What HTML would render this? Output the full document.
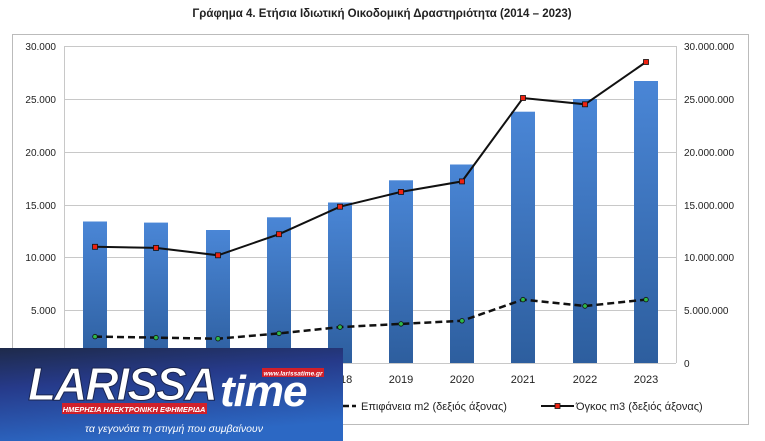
<!DOCTYPE html><html><head><style>body{margin:0;background:#fff;width:765px;height:441px;overflow:hidden;position:relative;font-family:"Liberation Sans",sans-serif}</style></head><body>
<svg width="765" height="441" style="position:absolute;left:0;top:0" font-family="Liberation Sans, sans-serif">
<defs><linearGradient id="b" x1="0" y1="0" x2="0" y2="1"><stop offset="0" stop-color="#4a86d6"/><stop offset="1" stop-color="#2d5e9e"/></linearGradient>
<linearGradient id="lg" x1="0" y1="0" x2="0.3" y2="1"><stop offset="0" stop-color="#1e2a4a"/><stop offset="0.4" stop-color="#263a8a"/><stop offset="1" stop-color="#2c68c4"/></linearGradient></defs>
<text x="382" y="17" text-anchor="middle" font-size="11.5" font-weight="bold" fill="#222">Γράφημα 4. Ετήσια Ιδιωτική Οικοδομική Δραστηριότητα (2014 – 2023)</text>
<rect x="12.5" y="34.5" width="736" height="390" fill="none" stroke="#bbb"/>
<g stroke="#c8c8c8" stroke-width="1">
<line x1="64" x2="676" y1="46.5" y2="46.5"/><line x1="64" x2="676" y1="99.5" y2="99.5"/><line x1="64" x2="676" y1="152.5" y2="152.5"/><line x1="64" x2="676" y1="205.5" y2="205.5"/><line x1="64" x2="676" y1="257.5" y2="257.5"/><line x1="64" x2="676" y1="310.5" y2="310.5"/>
<line x1="64.5" x2="64.5" y1="46" y2="363"/><line x1="676.5" x2="676.5" y1="46" y2="363"/><line x1="64" x2="676" y1="363.5" y2="363.5"/></g>
<g font-size="10" fill="#222" text-anchor="end">
<text x="56" y="50">30.000</text><text x="56" y="103">25.000</text><text x="56" y="156">20.000</text><text x="56" y="209">15.000</text><text x="56" y="261">10.000</text><text x="56" y="314">5.000</text></g>
<g font-size="10" fill="#222">
<text x="684" y="50">30.000.000</text><text x="684" y="103">25.000.000</text><text x="684" y="156">20.000.000</text><text x="684" y="209">15.000.000</text><text x="684" y="261">10.000.000</text><text x="684" y="314">5.000.000</text><text x="684" y="367">0</text></g>
<g fill="url(#b)">
<rect x="83" y="221.5" width="24" height="141.5"/><rect x="144" y="222.6" width="24" height="140.4"/><rect x="206" y="230" width="24" height="133"/><rect x="267" y="217.3" width="24" height="145.7"/><rect x="328" y="202.5" width="24" height="160.5"/><rect x="389" y="180.3" width="24" height="182.7"/><rect x="450" y="164.5" width="24" height="198.5"/><rect x="511" y="111.7" width="24" height="251.3"/><rect x="573" y="99" width="24" height="264"/><rect x="634" y="81" width="24" height="282"/></g>
<g font-size="11" fill="#222" text-anchor="middle">
<text x="340" y="383">2018</text><text x="401" y="383">2019</text><text x="462" y="383">2020</text><text x="523" y="383">2021</text><text x="585" y="383">2022</text><text x="646" y="383">2023</text></g>
<polyline fill="none" stroke="#111" stroke-width="2.5" stroke-dasharray="7,4" points="95,336.6 156,337.6 218,338.7 279,333.4 340,327.1 401,323.9 462,320.8 523,299.6 585,306 646,299.6"/>
<g fill="#2db84a" stroke="#111" stroke-width="0.8"><circle cx="95" cy="336.6" r="2.3"/><circle cx="156" cy="337.6" r="2.3"/><circle cx="218" cy="338.7" r="2.3"/><circle cx="279" cy="333.4" r="2.3"/><circle cx="340" cy="327.1" r="2.3"/><circle cx="401" cy="323.9" r="2.3"/><circle cx="462" cy="320.8" r="2.3"/><circle cx="523" cy="299.6" r="2.3"/><circle cx="585" cy="306" r="2.3"/><circle cx="646" cy="299.6" r="2.3"/></g>
<polyline fill="none" stroke="#111" stroke-width="2" points="95,246.8 156,247.9 218,255.3 279,234.2 340,206.7 401,191.9 462,181.4 523,98 585,104.3 646,62"/>
<g fill="#e21" stroke="#111" stroke-width="0.8"><rect x="92.5" y="244.3" width="5" height="5"/><rect x="153.5" y="245.4" width="5" height="5"/><rect x="215.5" y="252.8" width="5" height="5"/><rect x="276.5" y="231.7" width="5" height="5"/><rect x="337.5" y="204.2" width="5" height="5"/><rect x="398.5" y="189.4" width="5" height="5"/><rect x="459.5" y="178.9" width="5" height="5"/><rect x="520.5" y="95.5" width="5" height="5"/><rect x="582.5" y="101.8" width="5" height="5"/><rect x="643.5" y="59.5" width="5" height="5"/></g>
<line x1="334" x2="356" y1="406" y2="406" stroke="#111" stroke-width="2.5" stroke-dasharray="6,3"/>
<text x="361" y="410" font-size="11" fill="#222">Επιφάνεια m2 (δεξιός άξονας)</text>
<line x1="541" x2="574" y1="406" y2="406" stroke="#111" stroke-width="2"/><rect x="555" y="403.5" width="5" height="5" fill="#e21" stroke="#111" stroke-width="0.8"/>
<text x="576" y="410" font-size="11" fill="#222">Όγκος m3 (δεξιός άξονας)</text>
<rect x="0" y="348" width="343" height="93" fill="url(#lg)"/>
<text x="28" y="400" font-size="46" font-weight="bold" font-style="italic" fill="#fff" stroke="#1a2550" stroke-width="1" letter-spacing="-2">LARISSA</text>
<text x="220" y="406" font-size="44" font-weight="bold" font-style="italic" fill="#fff" letter-spacing="-1">time</text>
<rect x="262" y="368" width="62" height="9" fill="#d0202a"/>
<text x="293" y="375.5" font-size="6.5" font-weight="bold" font-style="italic" fill="#fff" text-anchor="middle">www.larissatime.gr</text>
<rect x="62" y="403" width="145" height="11" fill="#d0202a"/>
<text x="134" y="412" font-size="7.5" font-weight="bold" font-style="italic" fill="#fff" text-anchor="middle">ΗΜΕΡΗΣΙΑ ΗΛΕΚΤΡΟΝΙΚΗ ΕΦΗΜΕΡΙΔΑ</text>
<text x="174" y="432" font-size="10.5" font-style="italic" fill="#fff" text-anchor="middle">τα γεγονότα τη στιγμή που συμβαίνουν</text>
</svg></body></html>
